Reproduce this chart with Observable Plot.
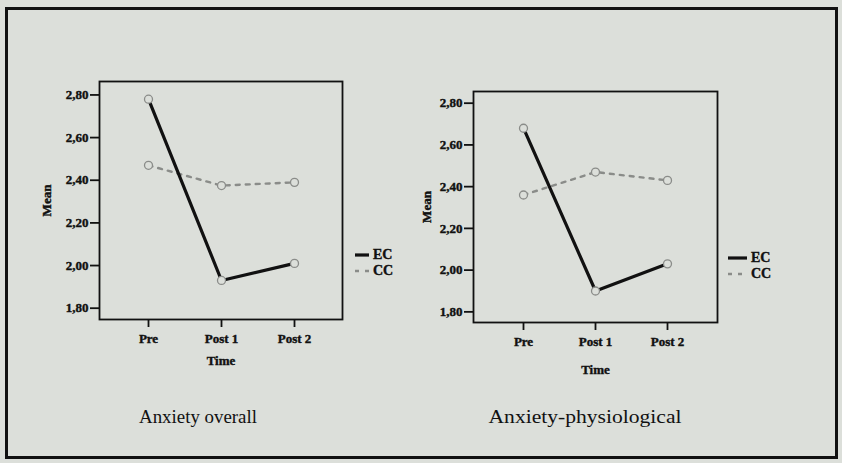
<!DOCTYPE html>
<html>
<head>
<meta charset="utf-8">
<script src="https://cdn.jsdelivr.net/npm/d3@7"></script>
<script src="https://cdn.jsdelivr.net/npm/@observablehq/plot@0.6"></script>
<style>
  html, body { margin: 0; padding: 0; background: #e3e5e1; }
  #page { position: relative; width: 842px; height: 463px; background: #dcdfda; overflow: hidden; font-family: "Liberation Serif", "Times New Roman", serif; }
  #border { position: absolute; left: 5px; top: 7px; width: 827px; height: 446px; border: 3px solid #111; }
  .chart { position: absolute; top: 0; }
  .chart svg text { font-weight: bold; stroke: #111; stroke-width: 0.4px; }
  .legend { position: absolute; font: bold 14px "Liberation Serif", serif; color: #111; -webkit-text-stroke: 0.4px #111; }
  .legend div { position: absolute; white-space: nowrap; height: 14px; line-height: 14px; }
  #caps { position: absolute; left: 0; top: 0; }
</style>
</head>
<body>
<div id="page">
  <div id="border"></div>
  <div id="left" class="chart" style="left:0px"></div>
  <div id="right" class="chart" style="left:420px"></div>
  <div id="leg1" class="legend" style="left:355px; top:248px"></div>
  <div id="leg2" class="legend" style="left:728px; top:251px"></div>
  <svg id="caps" width="842" height="463"></svg>
</div>
<script>
const times = ["Pre", "Post 1", "Post 2"];
const groups = ["EC", "CC"];
const overallEC = [2.78, 1.93, 2.01];
const overallCC = [2.47, 2.375, 2.39];
const physEC = [2.68, 1.90, 2.03];
const physCC = [2.36, 2.47, 2.43];
const yTicks = [1.8, 2.0, 2.2, 2.4, 2.6, 2.8];
const captions = ["Anxiety overall", "Anxiety-physiological"];
const xLabel = "Time";
const yLabel = "Mean";

const BG = "#dcdfda";
const INK = "#111";
const GREY = "#8a8c89";

function rows(ec, cc) {
  return [
    ...times.map((t, i) => ({time: t, group: "EC", value: ec[i]})),
    ...times.map((t, i) => ({time: t, group: "CC", value: cc[i]}))
  ];
}

function chart(data, opt) {
  const fmt = d => d.toFixed(2).replace(".", ",");
  return Plot.plot({
    width: opt.width,
    height: 380,
    marginLeft: opt.ml,
    marginRight: opt.mr,
    marginTop: opt.mt,
    marginBottom: opt.mb,
    style: {background: "transparent", fontFamily: "Liberation Serif, serif", color: INK},
    x: {type: "point", domain: times, padding: opt.pad},
    y: {domain: opt.ydom},
    marks: [
      Plot.frame({stroke: INK, strokeWidth: 1.8}),
      Plot.axisY({ticks: yTicks, tickFormat: fmt, tickSize: 9, tickPadding: 2, strokeWidth: 1.8,
        fontWeight: "bold", fontSize: 13, label: yLabel, labelAnchor: "center", labelArrow: "none", labelOffset: opt.ylo}),
      Plot.axisX({tickSize: 8, tickPadding: 6, strokeWidth: 1.8, fontWeight: "bold", fontSize: 13,
        label: xLabel, labelAnchor: "center", labelArrow: "none", labelOffset: opt.xlo}),
      Plot.line(data.filter(d => d.group === "CC"), {x: "time", y: "value", stroke: GREY, strokeWidth: 2.4, strokeDasharray: "4,6"}),
      Plot.line(data.filter(d => d.group === "EC"), {x: "time", y: "value", stroke: INK, strokeWidth: 3.2}),
      Plot.dot(data, {x: "time", y: "value", r: 4, stroke: GREY, strokeWidth: 1.3, fill: BG})
    ]
  });
}

const p1 = chart(rows(overallEC, overallCC), {width: 420, ml: 99, mr: 78, mt: 81, mb: 61, pad: 0.66, ydom: [1.747, 2.863], ylo: 58, xlo: 45});
const p2 = chart(rows(physEC, physCC), {width: 422, ml: 53, mr: 125, mt: 91, mb: 58, pad: 0.675, ydom: [1.749, 2.856], ylo: 52, xlo: 51});
document.getElementById("left").append(p1);
document.getElementById("right").append(p2);

function legend(el, lineW) {
  groups.forEach((g, i) => {
    const div = document.createElement("div");
    div.style.top = (i * 16) + "px";
    const dash = g === "EC" ? "" : "4,6";
    const col = g === "EC" ? INK : GREY;
    const sw = g === "EC" ? 3.2 : 2.4;
    div.innerHTML = `<svg width="${lineW + 4}" height="14" style="vertical-align:top"><line x1="0" x2="${lineW}" y1="7" y2="7" stroke="${col}" stroke-width="${sw}" stroke-dasharray="${dash}"/></svg>${g}`;
    el.append(div);
  });
}
legend(document.getElementById("leg1"), 14);
legend(document.getElementById("leg2"), 19);

const caps = d3.select("#caps");
const capPos = [{x: 198, w: 118}, {x: 585, w: 193}];
captions.forEach((c, i) => {
  caps.append("text")
    .attr("x", capPos[i].x - capPos[i].w / 2)
    .attr("y", 423)
    .attr("textLength", capPos[i].w)
    .attr("lengthAdjust", "spacingAndGlyphs")
    .attr("font-family", "Liberation Serif, serif")
    .attr("font-size", 19)
    .attr("fill", INK)
    .text(c);
});
</script>
</body>
</html>
